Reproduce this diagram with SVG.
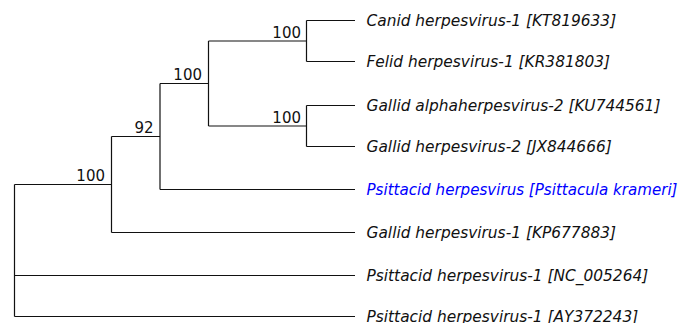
<svg xmlns="http://www.w3.org/2000/svg" width="694" height="323" viewBox="0 0 694 323">
<style>
.e{stroke:#111;stroke-width:1.2;fill:none}
.lf{font-family:"DejaVu Sans",Verdana,sans-serif;font-style:italic;font-size:15.4px;fill:#111}
.bl{fill:#0000ff}
.bs{font-family:"DejaVu Sans",Verdana,sans-serif;font-size:15px;fill:#111;text-anchor:end}
</style>
<rect width="694" height="323" fill="#fff"/>
<g id="connectors">
<path class="e" d="M14.5,184.5V316.5M14.5,184.5H111.5M14.5,275.5H355M14.5,316.5H355"/>
<path class="e" d="M111.5,136.5V232.5M111.5,136.5H160M111.5,232.5H355"/>
<path class="e" d="M160,83.5V189.5M160,83.5H208.5M160,189.5H355"/>
<path class="e" d="M208.5,41V126M208.5,41H306.5M208.5,126H306.5"/>
<path class="e" d="M306.5,20.5V61.5M306.5,20.5H355M306.5,61.5H355"/>
<path class="e" d="M306.5,105.5V146.5M306.5,105.5H355M306.5,146.5H355"/>
</g>
<g id="n-root"></g>
<g id="n-a"><text class="bs" x="105" y="180.5">100</text></g>
<g id="n-92"><text class="bs" x="153.5" y="133">92</text></g>
<g id="n-b"><text class="bs" x="202" y="80">100</text></g>
<g id="n-c"><text class="bs" x="301" y="38">100</text></g>
<g id="n-d"><text class="bs" x="301" y="123">100</text></g>
<g id="leaf-canid"><text class="lf" x="366.5" y="26">Canid herpesvirus-1 [KT819633]</text></g>
<g id="leaf-felid"><text class="lf" x="366.5" y="67">Felid herpesvirus-1 [KR381803]</text></g>
<g id="leaf-gallid-alpha"><text class="lf" x="366.5" y="111">Gallid alphaherpesvirus-2 [KU744561]</text></g>
<g id="leaf-gallid2"><text class="lf" x="366.5" y="152">Gallid herpesvirus-2 [JX844666]</text></g>
<g id="leaf-krameri"><text class="lf bl" x="366.5" y="195" textLength="311" lengthAdjust="spacingAndGlyphs">Psittacid herpesvirus [Psittacula krameri]</text></g>
<g id="leaf-gallid1"><text class="lf" x="366.5" y="238">Gallid herpesvirus-1 [KP677883]</text></g>
<g id="leaf-nc"><text class="lf" x="366.5" y="281">Psittacid herpesvirus-1 [NC_005264]</text></g>
<g id="leaf-ay"><text class="lf" x="366.5" y="321.5">Psittacid herpesvirus-1 [AY372243]</text></g>
</svg>
